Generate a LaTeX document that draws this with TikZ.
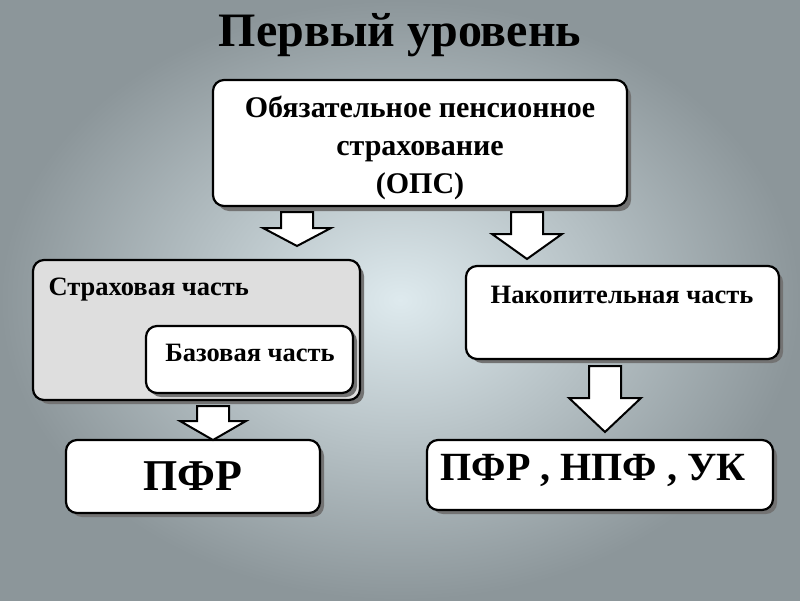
\documentclass[tikz,border=0pt]{standalone}
\usepackage{fontspec}
\setmainfont{Liberation Serif}

\definecolor{bgInner}{RGB}{222,234,238}
\definecolor{bgOuter}{RGB}{140,150,154}
\definecolor{partGray}{RGB}{222,222,222}

% block arrow: x, top, head start, tip, shaft half width, head half width
\newcommand{\blockArrow}[6]{%
  \draw[arrowShape] (#1-#5,#2) -- (#1+#5,#2) -- (#1+#5,#3) -- (#1+#6,#3)
    -- (#1,#4) -- (#1-#6,#3) -- (#1-#5,#3) -- cycle;}

\begin{document}
\begin{tikzpicture}[x=1pt,y=-1pt]
  \tikzset{
    box/.style={draw, line width=2.2pt, fill=white, rounded corners=11pt},
    boxShadow/.style={fill=black!55, rounded corners=11pt},
    arrowShape/.style={draw, line width=2pt, fill=white, line join=miter},
    boxText/.style={font=\bfseries\fontsize{26.5}{34}\selectfont, align=center},
  }
  \shade[inner color=bgInner, outer color=bgOuter] (0,0) rectangle (800,600);
  \useasboundingbox (0,0) rectangle (800,600);

  \node[font=\bfseries\fontsize{48}{52}\selectfont] (title) at (400,35) {Первый уровень};

  % boxes with shadows
  \fill[boxShadow] (218,85) rectangle (631,211);
  \draw[box] (213,80) rectangle (627,206);
  \node[boxText, font=\bfseries\fontsize{30}{38}\selectfont] (ops) at (420,148) {Обязательное пенсионное\\страхование\\(ОПС)};

  \fill[boxShadow] (38,265) rectangle (364,404);
  \draw[box, fill=partGray] (33,260) rectangle (360,400);
  \node[boxText, anchor=west] (strah) at (45,290) {Страховая часть};

  \fill[boxShadow] (150,330) rectangle (357,397);
  \draw[box] (146,326) rectangle (353,393);
  \node[boxText] (baz) at (250,353) {Базовая часть};

  \fill[boxShadow] (471,271) rectangle (783,363);
  \draw[box] (466,266) rectangle (779,359);
  \node[boxText] (nak) at (622,295) {Накопительная часть};

  \fill[boxShadow] (71,445) rectangle (324,517);
  \draw[box] (66,440) rectangle (320,513);
  \node[font=\bfseries\fontsize{44}{50}\selectfont] (pfr) at (193,476) {ПФР};

  \fill[boxShadow] (432,445) rectangle (777,514);
  \draw[box] (427,440) rectangle (773,510);
  \node[font=\bfseries\fontsize{40}{46}\selectfont] (funds) at (593,470) {ПФР ,\ НПФ ,\ УК};

  % block arrows
  \blockArrow{297}{212}{228}{246}{16}{34}
  \blockArrow{527}{212}{234}{259}{16}{35}
  \blockArrow{213}{406}{421}{440}{16}{33}
  \blockArrow{605}{366}{398}{432}{16}{36}
\end{tikzpicture}
\end{document}
